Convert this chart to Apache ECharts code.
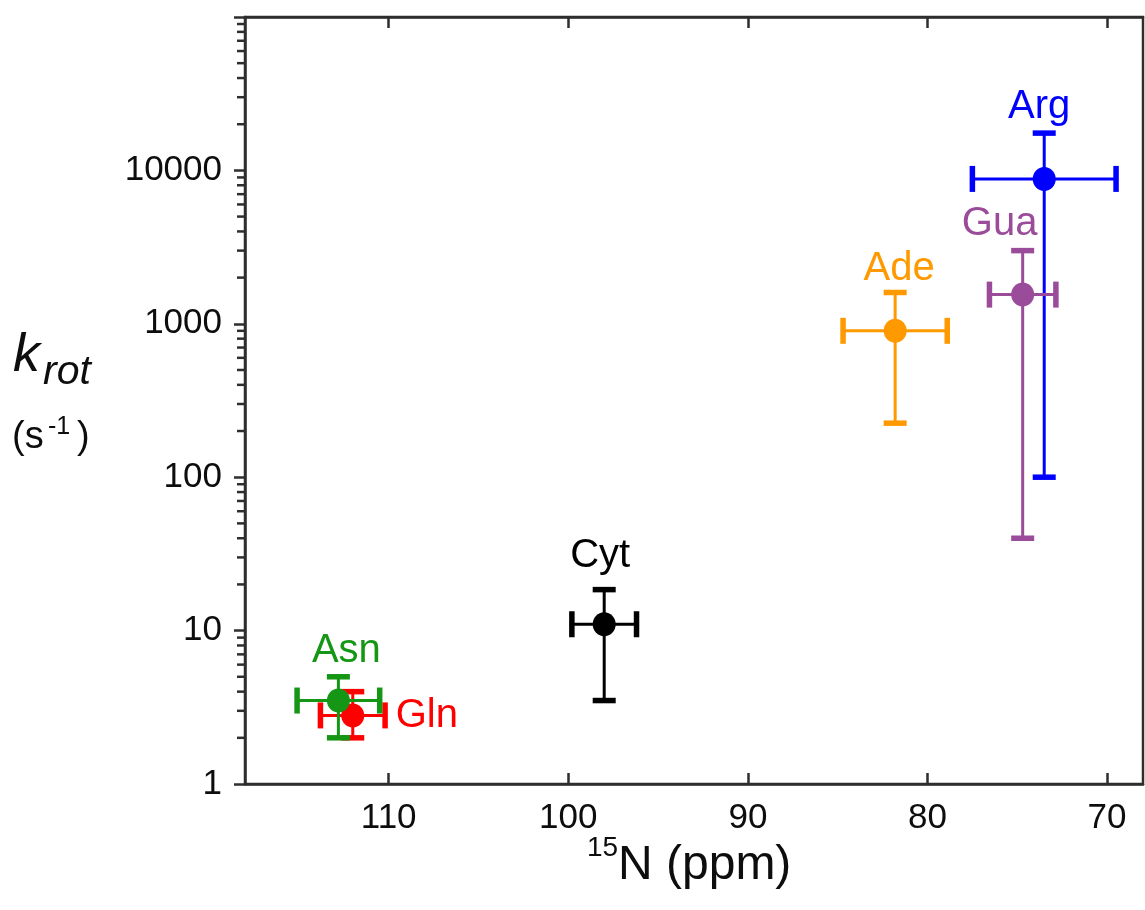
<!DOCTYPE html>
<html>
<head>
<meta charset="utf-8">
<script src="https://cdn.jsdelivr.net/npm/echarts@6/dist/echarts.min.js"></script>
<style>
  html, body { margin: 0; padding: 0; background: #ffffff; }
  #chart { width: 1145px; height: 910px; }
</style>
</head>
<body>
<div id="chart"></div>
<script>
// ---- data ----
const names     = ['Arg', 'Gua', 'Ade', 'Cyt', 'Gln', 'Asn'];
const shiftPpm  = [73.5, 74.7, 81.8, 98.0, 112.0, 112.8];
const shiftErr  = [4.0, 1.85, 2.9, 1.8, 1.8, 2.3];
const krot      = [8800, 1550, 900, 11, 2.8, 3.5];
const krotLow   = [100, 40, 225, 3.5, 2.0, 2.0];
const krotHigh  = [17500, 3000, 1600, 18.5, 4.0, 5.0];
const xTickValues = [70, 80, 90, 100, 110];
const yMinorTickValues = [];
[1, 10, 100, 1000, 10000].forEach(function (d) {
  [2, 3, 4, 5, 6, 7, 8, 9].forEach(function (m) { yMinorTickValues.push(m * d); });
});

// ---- styles ----
const FONT = '"Liberation Sans", Arial, sans-serif';
const AXIS_COLOR = '#2e2e2e';
const TEXT_COLOR = '#0d0d0d';
const colors = {
  Arg: '#0000ff', Gua: '#9a4c9a', Ade: '#ff9900',
  Cyt: '#000000', Gln: '#ff0000', Asn: '#159615'
};
// label placement relative to upper error cap (or to the point for 'right')
const labelPlace = {
  Arg: { mode: 'top', dx: -5, dy: -6 },
  Gua: { mode: 'top', dx: -23, dy: -7 },
  Ade: { mode: 'top', dx: 4, dy: -4 },
  Cyt: { mode: 'top', dx: -4, dy: -14 },
  Asn: { mode: 'top', dx: 8, dy: -6 },
  Gln: { mode: 'right', dx: 43, dy: 1 }
};
const X_MIN = 68, X_MAX = 118;

const seriesData = names.map(function (n, i) {
  return { name: n, value: [shiftPpm[i], krot[i], shiftErr[i], krotLow[i], krotHigh[i]] };
});

const chart = echarts.init(document.getElementById('chart'), null, { renderer: 'canvas' });

function renderPoint(params, api) {
  const name = seriesData[params.dataIndex].name;
  const col = colors[name];
  const x = api.value(0), y = api.value(1), xe = api.value(2), ylo = api.value(3), yhi = api.value(4);
  const c = api.coord([x, y]);
  const l = api.coord([x + xe, y]);
  const r = api.coord([x - xe, y]);
  const t = api.coord([x, yhi]);
  const b = api.coord([x, ylo]);
  const lw = 3, cw = 5.5, capH = 13, capW = 11.5;
  const line = function (x1, y1, x2, y2, w) {
    return { type: 'line', shape: { x1: x1, y1: y1, x2: x2, y2: y2 }, style: { stroke: col, lineWidth: w } };
  };
  const children = [
    line(l[0], c[1], r[0], c[1], lw),
    line(c[0], t[1], c[0], b[1], lw),
    line(l[0], c[1] - capH, l[0], c[1] + capH, cw),
    line(r[0], c[1] - capH, r[0], c[1] + capH, cw),
    line(c[0] - capW, t[1], c[0] + capW, t[1], cw),
    line(c[0] - capW, b[1], c[0] + capW, b[1], cw),
    { type: 'ellipse', shape: { cx: c[0], cy: c[1], rx: 11.5, ry: 12 }, style: { fill: col } }
  ];
  const lp = labelPlace[name];
  if (lp.mode === 'top') {
    children.push({ type: 'text', x: c[0] + lp.dx, y: t[1] + lp.dy,
      style: { text: name, fill: col, font: '40px ' + FONT, align: 'center', verticalAlign: 'bottom' } });
  } else {
    children.push({ type: 'text', x: c[0] + lp.dx, y: c[1] + lp.dy,
      style: { text: name, fill: col, font: '40px ' + FONT, align: 'left', verticalAlign: 'middle' } });
  }
  return { type: 'group', children: children };
}

function renderMinorTick(params, api) {
  const p = api.coord([X_MAX, api.value(0)]);
  return { type: 'line', shape: { x1: p[0] - 8, y1: p[1], x2: p[0], y2: p[1] },
    style: { stroke: AXIS_COLOR, lineWidth: 2.5 } };
}

const option = {
  animation: false,
  backgroundColor: '#ffffff',
  grid: { left: 245, right: 2, top: 17, bottom: 126, show: true, borderColor: AXIS_COLOR, borderWidth: 2.5, backgroundColor: 'transparent' },
  xAxis: [
    {
      type: 'value', min: X_MIN, max: X_MAX, inverse: true, position: 'bottom',
      axisLine: { onZero: false, lineStyle: { color: AXIS_COLOR, width: 2.5 } },
      axisTick: { inside: true, length: 11, customValues: xTickValues, lineStyle: { color: AXIS_COLOR, width: 2.5 } },
      axisLabel: { customValues: xTickValues, fontSize: 35, color: TEXT_COLOR, margin: 17, fontFamily: FONT },
      splitLine: { show: false }
    },
    {
      type: 'value', min: X_MIN, max: X_MAX, inverse: true, position: 'top',
      axisLine: { onZero: false, lineStyle: { color: AXIS_COLOR, width: 2.5 } },
      axisTick: { inside: true, length: 11, customValues: xTickValues, lineStyle: { color: AXIS_COLOR, width: 2.5 } },
      axisLabel: { show: false },
      splitLine: { show: false }
    }
  ],
  yAxis: [
    {
      type: 'log', logBase: 10, min: 1, max: 100000, position: 'left',
      axisLine: { onZero: false, lineStyle: { color: AXIS_COLOR, width: 2.5 } },
      axisTick: { inside: false, length: 11, lineStyle: { color: AXIS_COLOR, width: 2.5 } },
      axisLabel: {
        fontSize: 35, color: TEXT_COLOR, margin: 23, fontFamily: FONT,
        formatter: function (v) { const r = Math.round(v); return r >= 100000 ? '' : String(r); }
      },
      splitLine: { show: false }
    }
  ],
  series: [
    {
      type: 'custom', name: 'minorTicks', silent: true, clip: false,
      xAxisIndex: 0, yAxisIndex: 0,
      data: yMinorTickValues.map(function (v) { return [v]; }),
      encode: { y: 0 },
      renderItem: renderMinorTick
    },
    {
      type: 'custom', name: 'krot', clip: false,
      xAxisIndex: 0, yAxisIndex: 0,
      data: seriesData,
      encode: { x: 0, y: 1 },
      renderItem: renderPoint
    }
  ],
  graphic: [
    { type: 'text', x: 13, y: 356, style: { text: 'k', fill: TEXT_COLOR, font: 'italic 54px ' + FONT, align: 'left', verticalAlign: 'middle' } },
    { type: 'text', x: 43, y: 373, style: { text: 'rot', fill: TEXT_COLOR, font: 'italic 41px ' + FONT, align: 'left', verticalAlign: 'middle' } },
    { type: 'text', x: 12, y: 438, style: { text: '(s', fill: TEXT_COLOR, font: '38px ' + FONT, align: 'left', verticalAlign: 'middle' } },
    { type: 'text', x: 48, y: 427, style: { text: '-1', fill: TEXT_COLOR, font: '25px ' + FONT, align: 'left', verticalAlign: 'middle' } },
    { type: 'text', x: 77, y: 438, style: { text: ')', fill: TEXT_COLOR, font: '38px ' + FONT, align: 'left', verticalAlign: 'middle' } },
    { type: 'text', x: 587, y: 848, style: { text: '15', fill: TEXT_COLOR, font: '28px ' + FONT, align: 'left', verticalAlign: 'middle' } },
    { type: 'text', x: 618, y: 866, style: { text: 'N (ppm)', fill: TEXT_COLOR, font: '48px ' + FONT, align: 'left', verticalAlign: 'middle' } }
  ]
};
chart.setOption(option);
</script>
</body>
</html>
